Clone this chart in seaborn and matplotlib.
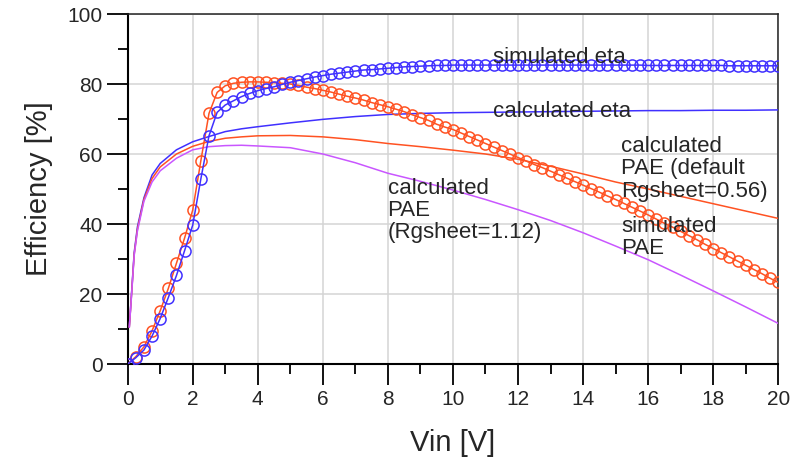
import numpy as np
import pandas as pd
import matplotlib
matplotlib.use("Agg")
import matplotlib.pyplot as plt
from matplotlib.ticker import MultipleLocator
import seaborn as sns

# simulated sweep, one point every 0.25 V
vin_sim = np.arange(0, 20.01, 0.25)

sim_eta = [0.0, 1.8, 4.0, 8.0, 13.0, 19.0, 25.3, 32.4, 39.7, 52.9,
           65.2, 71.9, 74.0, 75.2, 76.4, 77.3, 78.1, 78.7, 79.2, 79.9,
           80.5, 81.0, 81.5, 82.0, 82.4, 82.8, 83.1, 83.4, 83.7, 84.0,
           84.1, 84.3, 84.5, 84.7, 84.9, 85.0, 85.1, 85.2, 85.3, 85.3,
           85.4, 85.4, 85.4, 85.4, 85.4, 85.4, 85.4, 85.4, 85.4, 85.4,
           85.4, 85.4, 85.4, 85.4, 85.4, 85.4, 85.4, 85.4, 85.4, 85.4,
           85.4, 85.4, 85.4, 85.4, 85.3, 85.3, 85.3, 85.3, 85.3, 85.3,
           85.3, 85.3, 85.3, 85.3, 85.2, 85.2, 85.2, 85.2, 85.2, 85.2,
           85.2]

sim_pae = [0.0, 2.1, 4.9, 9.5, 15.2, 21.6, 28.8, 36.0, 44.0, 58.1,
           71.6, 77.6, 79.5, 80.2, 80.5, 80.6, 80.6, 80.5, 80.4, 80.2,
           80.0, 79.6, 79.1, 78.7, 78.2, 77.7, 77.1, 76.5, 76.0, 75.4,
           74.7, 74.1, 73.5, 72.8, 72.1, 71.2, 70.4, 69.6, 68.5, 67.7,
           67.0, 66.0, 65.0, 64.0, 63.0, 62.0, 61.0, 60.0, 59.0, 58.0,
           57.0, 56.1, 55.1, 54.1, 53.1, 52.1, 51.1, 50.1, 49.1, 48.0,
           47.0, 45.9, 44.8, 43.7, 42.6, 41.4, 40.2, 39.1, 37.9, 36.7,
           35.5, 34.2, 33.0, 31.8, 30.6, 29.4, 28.2, 27.0, 25.8, 24.5,
           23.3]

# calculated curves
vin_calc = [0.05, 0.1, 0.2, 0.3, 0.5, 0.75, 1.0, 1.5, 2.0, 2.5, 3.0, 3.5,
            4.0, 5.0, 6.0, 7.0, 8.0, 9.0, 10.0, 11.0, 12.0, 13.0, 14.0,
            15.0, 16.0, 17.0, 18.0, 19.0, 20.0]
calc_eta = [10.5, 17.5, 31.8, 39.2, 47.5, 54.0, 57.3, 61.2, 63.5, 65.0, 66.4,
            67.2, 67.8, 68.9, 69.9, 70.7, 71.3, 71.6, 71.8, 71.9, 72.0, 72.1,
            72.2, 72.3, 72.4, 72.4, 72.5, 72.5, 72.6]
calc_pae_056 = [10.5, 17.2, 31.3, 38.5, 47.0, 53.0, 56.3, 60.0, 62.2, 63.6,
                64.5, 64.9, 65.2, 65.3, 64.9, 64.1, 63.0, 62.1, 61.1, 60.0,
                58.5, 56.5, 54.3, 52.0, 50.0, 47.9, 45.8, 43.7, 41.6]
calc_pae_112 = [10.5, 17.0, 31.0, 38.0, 46.5, 52.0, 55.2, 58.8, 61.2, 62.1,
                62.4, 62.5, 62.3, 61.8, 60.0, 57.5, 54.5, 52.2, 49.7, 47.0,
                44.1, 41.0, 37.5, 33.7, 29.8, 25.4, 20.9, 16.3, 11.6]

blue = "#4030ff"
red = "#ff5222"
violet = "#c956ff"

sim = pd.DataFrame({"Vin": vin_sim, "eta": sim_eta, "pae": sim_pae})
calc = pd.DataFrame({"Vin": vin_calc, "eta": calc_eta,
                     "pae056": calc_pae_056, "pae112": calc_pae_112})

sns.set_style("white")
plt.rcParams["font.family"] = ["Liberation Sans", "DejaVu Sans"]

fig = plt.figure(figsize=(7.91, 4.73), dpi=100)
ax = fig.add_axes([0.1614, 0.2304, 0.8225, 0.74])

sns.lineplot(data=calc, x="Vin", y="eta", color=blue, lw=1.1, ax=ax, zorder=3)
sns.lineplot(data=calc, x="Vin", y="pae056", color=red, lw=1.1, ax=ax, zorder=3)
sns.lineplot(data=calc, x="Vin", y="pae112", color=violet, lw=1.1, ax=ax, zorder=3)
sns.lineplot(data=sim, x="Vin", y="pae", color=red, lw=1.1, marker="o",
             markersize=8, markerfacecolor="none", markeredgecolor=red,
             markeredgewidth=1.1, ax=ax, zorder=4)
sns.lineplot(data=sim, x="Vin", y="eta", color=blue, lw=1.1, marker="o",
             markersize=8, markerfacecolor="none", markeredgecolor=blue,
             markeredgewidth=1.1, ax=ax, zorder=5)

ax.set_xlim(0, 20)
ax.set_ylim(0, 100)
ax.xaxis.set_major_locator(MultipleLocator(2))
ax.xaxis.set_minor_locator(MultipleLocator(1))
ax.yaxis.set_major_locator(MultipleLocator(20))
ax.yaxis.set_minor_locator(MultipleLocator(10))
ax.grid(True, which="major", color="#d4d4d4", lw=1.1, zorder=0)
ax.set_axisbelow(True)

ax.tick_params(which="major", direction="out", length=15, width=1.3,
               labelsize=15, color="black", pad=3, bottom=True, left=True)
ax.tick_params(which="minor", direction="out", length=7.5, width=1.3,
               color="black", bottom=True, left=True)
ax.tick_params(axis="x", which="major", pad=4)
for side in ["left", "bottom"]:
    ax.spines[side].set_linewidth(1.5)
    ax.spines[side].set_color("black")
for side in ["top", "right"]:
    ax.spines[side].set_linewidth(1.1)
    ax.spines[side].set_color("#222222")

ax.set_xlabel("Vin [V]", fontsize=21)
ax.set_ylabel("Efficiency [%]", fontsize=21)
ax.xaxis.set_label_coords(0.5, -0.186)
ax.yaxis.set_label_coords(-0.115, 0.5)

# va="baseline" anchors the last line of a multi-line label
txt = dict(fontsize=16, ha="left", va="baseline", linespacing=1.08, zorder=6)
ax.text(11.24, 86.0, "simulated eta", **txt)
ax.text(11.24, 70.7, "calculated eta", **txt)
ax.text(15.18, 47.8, "calculated\nPAE (default\nRgsheet=0.56)", **txt)
ax.text(15.18, 31.4, "simulated\nPAE", **txt)
ax.text(7.99, 35.9, "calculated\nPAE\n(Rgsheet=1.12)", **txt)

fig.savefig("out.png", dpi=100)
